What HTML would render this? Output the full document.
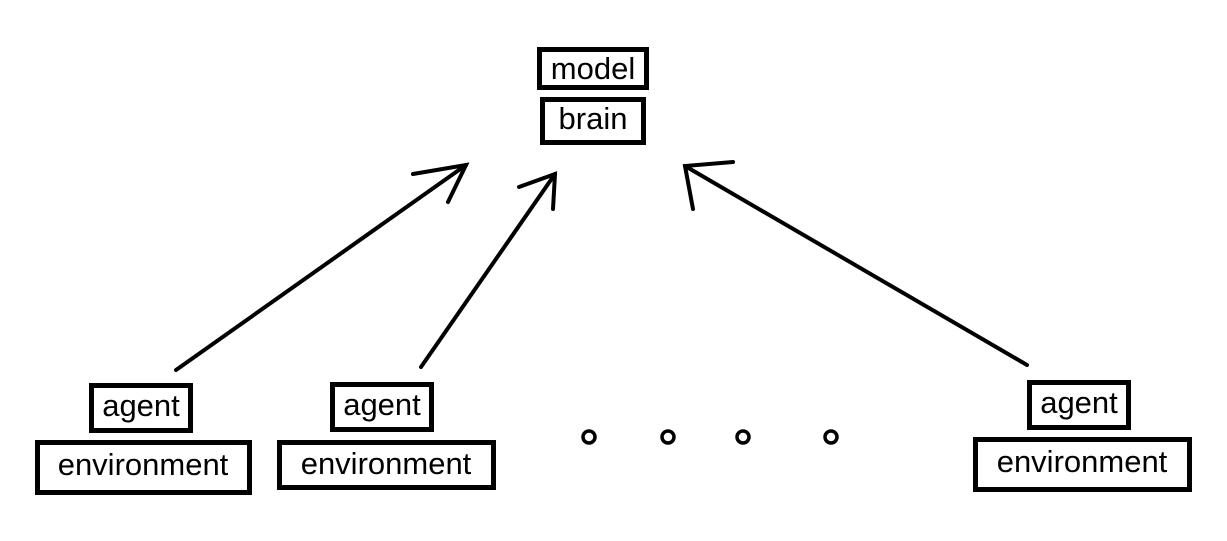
<!DOCTYPE html>
<html><head><meta charset="utf-8"><style>
html,body{margin:0;padding:0;background:#fff;}
svg{display:block;}
text{font-family:"Liberation Sans",sans-serif;font-size:31px;fill:#000;}
</style></head><body>
<svg width="1227" height="541" viewBox="0 0 1227 541" xmlns="http://www.w3.org/2000/svg">
<g fill="none" stroke="#000" stroke-width="5">
<rect x="539.5" y="49.5" width="107" height="38"/>
<rect x="542.5" y="99.5" width="101" height="43"/>
<rect x="91.5" y="385.5" width="99" height="45"/>
<rect x="37.5" y="442.5" width="212" height="50"/>
<rect x="332.5" y="384.5" width="99" height="45"/>
<rect x="279.5" y="442.5" width="214" height="45"/>
<rect x="1029.5" y="382.5" width="99" height="45"/>
<rect x="975.5" y="439.5" width="214" height="50"/>
</g>
<g text-anchor="middle">
<text x="593" y="79">model</text>
<text x="593" y="129">brain</text>
<text x="141" y="416">agent</text>
<text x="143" y="475">environment</text>
<text x="382" y="415">agent</text>
<text x="386" y="474">environment</text>
<text x="1079" y="413">agent</text>
<text x="1082" y="472">environment</text>
</g>
<g fill="none" stroke="#000" stroke-width="4" stroke-linecap="round">
<line x1="176" y1="370" x2="466" y2="165"/>
<polyline points="413,174 466,165 448,202"/>
<line x1="421" y1="367" x2="555" y2="174"/>
<polyline points="519,187 555,174 553,209"/>
<line x1="1027" y1="365" x2="685" y2="166"/>
<polyline points="733,162 685,166 693,209"/>
</g>
<g fill="none" stroke="#000" stroke-width="3.5">
<circle cx="589" cy="437" r="6"/>
<circle cx="668" cy="437" r="6"/>
<circle cx="743" cy="437" r="6"/>
<circle cx="831" cy="437" r="6"/>
</g>
</svg>
</body></html>
